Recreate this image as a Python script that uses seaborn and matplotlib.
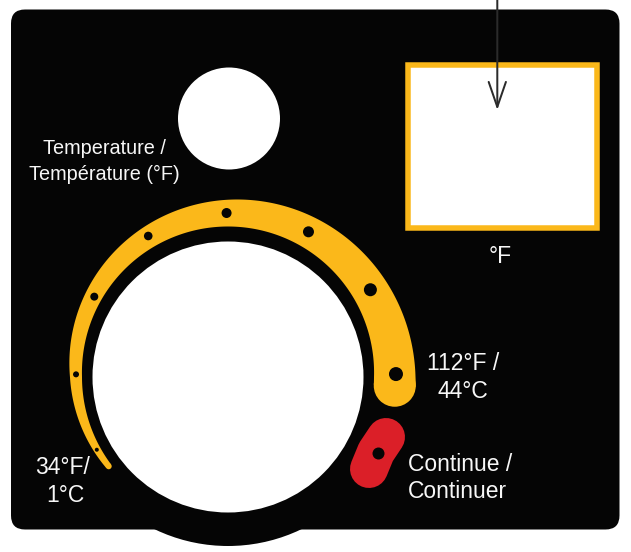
import numpy as np
import matplotlib
matplotlib.use("Agg")
import matplotlib.pyplot as plt
import matplotlib.patches as mpatches
from matplotlib import font_manager
import seaborn as sns

# dial ticks along the yellow band (angle in degrees, radius, dot radius in px)
tick_angle = [209, 179, 149, 119.5, 90.5, 61, 31.5, 1]
tick_radius = [150, 152, 156, 162, 164, 166, 167, 168]
tick_size = [2, 3, 4, 4.3, 5, 5.5, 6.5, 7]

# labels: text, x, baseline y, alignment
labels = ["Temperature /", "Température (°F)", "°F", "112°F /", "44°C",
          "34°F/", "1°C", "Continue /", "Continuer"]
label_x = [104, 104, 500, 463, 463, 63, 65, 408, 408]
label_y = [153.5, 180, 263, 369.5, 397.5, 474.5, 502.5, 471, 498.5]
label_ha = ["center", "center", "center", "center", "center",
            "center", "center", "left", "left"]

BLACK = "#050505"
YELLOW = "#FBB81A"
RED = "#DB1F28"
PX = 0.72  # points per pixel at dpi 100

sns.set_theme(style="white")
plt.rcParams["font.family"] = ["Liberation Sans", "DejaVu Sans"]

# the temperature label is set in a narrow face in the original
narrow_fam, narrow_size = ["Liberation Sans"], 14.3
for fam, size in [("Liberation Sans Narrow", 16.5), ("Noto Sans Condensed", 15.5)]:
    try:
        font_manager.findfont(font_manager.FontProperties(family=fam), fallback_to_default=False)
        narrow_fam, narrow_size = [fam, "Liberation Sans"], size
        break
    except ValueError:
        pass

fig = plt.figure(figsize=(6.31, 5.52), dpi=100)
ax = fig.add_axes([0, 0, 1, 1])
ax.set_xlim(0, 631)
ax.set_ylim(552, 0)
ax.axis("off")

cx, cy = 228, 377

# panel + bulge under the knob
ax.add_patch(mpatches.FancyBboxPatch((11, 9.5), 608.5, 520, boxstyle="round,pad=0,rounding_size=14",
                                     fc=BLACK, ec="none"))
ax.add_patch(mpatches.Circle((cx, cy), 169, fc=BLACK, ec="none"))

# pointer arrow
ax.annotate("", xy=(497.3, 110), xytext=(497.3, -2),
            arrowprops=dict(arrowstyle="->,head_length=1.8,head_width=0.62", mutation_scale=10,
                            color="#2b2b2b", lw=2 * PX, shrinkA=0, shrinkB=0), zorder=6)

# display window
ax.add_patch(mpatches.Rectangle((407.5, 64.5), 189.5, 163, fc="white", ec=YELLOW, lw=5.5 * PX))

# small lamp and big knob
ax.add_patch(mpatches.Circle((229, 118.5), 51, fc="white", ec="none"))
ax.add_patch(mpatches.Circle((cx, cy), 135.5, fc="white", ec="none"))

# tapering yellow band
t0, t1 = 216.8, -3
t = np.radians(np.linspace(t0, t1, 300))
f = (np.degrees(t) - t0) / (t1 - t0)
w = 6 + 36 * f
r_in = 146 + 4.5 * np.clip(np.sin(t), 0, None)
r_out = r_in + w
xo, yo = cx + r_out * np.cos(t), cy - r_out * np.sin(t)
xi, yi = cx + r_in * np.cos(t), cy - r_in * np.sin(t)
ax.fill(np.r_[xo, xi[::-1]], np.r_[yo, yi[::-1]], color=YELLOW, lw=0)
for k in (0, -1):
    rm = r_in[k] + w[k] / 2
    ax.add_patch(mpatches.Circle((cx + rm * np.cos(t[k]), cy - rm * np.sin(t[k])), w[k] / 2,
                                 fc=YELLOW, ec="none"))

# continue button
ax.plot([386, 376, 369], [437, 452, 469], color=RED, lw=38 * PX,
        solid_capstyle="round", solid_joinstyle="round")

# dots
ang = np.radians(tick_angle)
tx = cx + np.array(tick_radius) * np.cos(ang)
ty = cy - np.array(tick_radius) * np.sin(ang)
sns.scatterplot(x=tx, y=ty, s=(2 * np.array(tick_size) * PX) ** 2, color=BLACK,
                linewidth=0, legend=False, ax=ax, zorder=5)
sns.scatterplot(x=[377.7], y=[453.3], s=(12 * PX) ** 2, color=BLACK, linewidth=0,
                legend=False, ax=ax, zorder=5)

for i, (s, x, y, ha) in enumerate(zip(labels, label_x, label_y, label_ha)):
    if i < 2:
        fam, size = narrow_fam, narrow_size
    else:
        fam, size = ["Liberation Sans"], 16.5
    ax.text(x, y, s, ha=ha, va="baseline", color="#F7F7F7", fontsize=size, family=fam)

ax.set_xlim(0, 631)
ax.set_ylim(552, 0)
fig.savefig("out.png", dpi=100)
